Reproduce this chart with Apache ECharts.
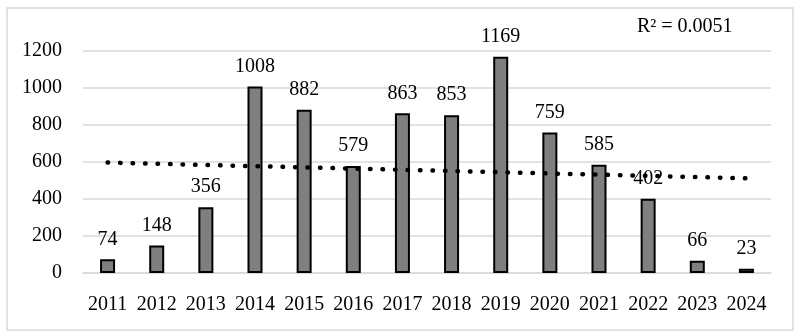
<!DOCTYPE html>
<html>
<head>
<meta charset="utf-8">
<script src="https://cdn.jsdelivr.net/npm/echarts@6/dist/echarts.min.js"></script>
<style>
html,body{margin:0;padding:0;background:#fff;}
#chart{width:799px;height:336px;}
</style>
</head>
<body>
<div id="chart"></div>
<script>
var categories = ['2011','2012','2013','2014','2015','2016','2017','2018','2019','2020','2021','2022','2023','2024'];
var values = [74,148,356,1008,882,579,863,853,1169,759,585,402,66,23];
// linear trendline endpoints (first and last category)
var trendEnds = [597, 512];
var r2Label = 'R² = 0.0051';
var yTicks = {min:0, max:1200, interval:200};

var trendData = categories.map(function(c,i){
  if (i === 0) return trendEnds[0];
  if (i === categories.length-1) return trendEnds[1];
  return null;
});

var FONT = '"Liberation Serif", "DejaVu Serif", serif';
var chart = echarts.init(document.getElementById('chart'), null, {renderer:'canvas'});
chart.setOption({
  animation:false,
  backgroundColor:'#fff',
  grid:{left:83, right:28, top:51, bottom:63},
  xAxis:{
    type:'category',
    data:categories,
    axisLine:{show:true, lineStyle:{color:'#d9d9d9', width:1.5}},
    axisTick:{show:false},
    axisLabel:{fontFamily:FONT, fontSize:20, color:'#000', margin:22, interval:0}
  },
  yAxis:{
    type:'value',
    min:yTicks.min, max:yTicks.max, interval:yTicks.interval,
    axisLine:{show:false},
    axisTick:{show:false},
    splitLine:{lineStyle:{color:'#d9d9d9', width:1.5}},
    axisLabel:{fontFamily:FONT, fontSize:20, color:'#000', margin:21, formatter:function(v){return String(v);}}
  },
  series:[
    {
      type:'bar',
      data:values,
      barWidth:15,
      itemStyle:{color:'#7f7f7f', borderColor:'#000', borderWidth:2},
      label:{show:true, position:'top', distance:10, fontFamily:FONT, fontSize:20, color:'#000'},
      z:2
    },
    {
      type:'line',
      data:trendData,
      connectNulls:true,
      symbol:'none',
      lineStyle:{color:'#000', width:4.5, type:[0.5, 12], cap:'round'},
      z:3,
      silent:true
    }
  ],
  graphic:[
    {type:'rect', shape:{x:7, y:8, width:786, height:322}, style:{fill:null, stroke:'#d9d9d9', lineWidth:1.5}, z:-1},
    {type:'text', left:637, top:17, style:{text:r2Label, font:'20px ' + FONT, fill:'#000'}}
  ]
});
</script>
</body>
</html>
